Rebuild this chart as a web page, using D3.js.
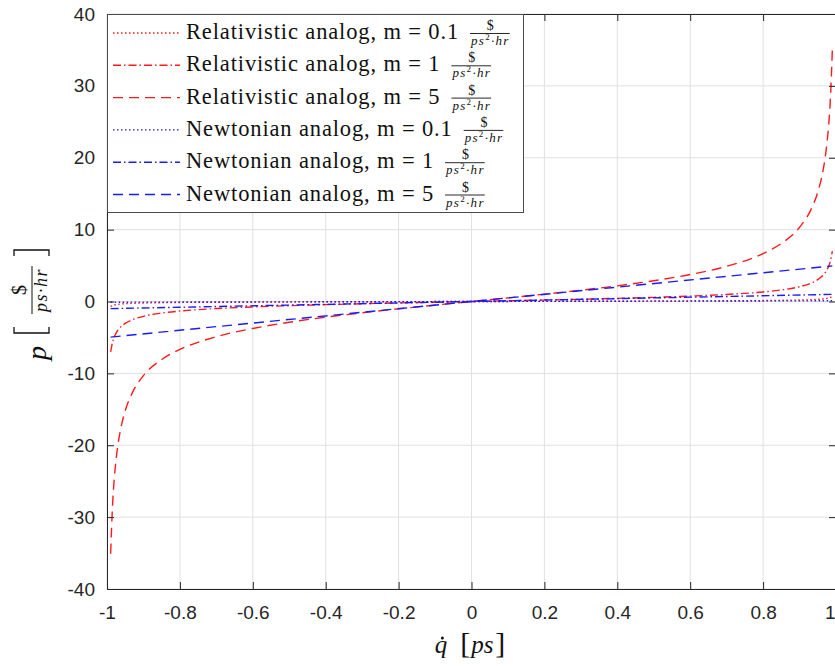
<!DOCTYPE html>
<html>
<head>
<meta charset="utf-8">
<script src="https://cdn.jsdelivr.net/npm/d3@7"></script>
<style>
  body { margin: 0; background: #fff; }
  svg { display: block; }
</style>
</head>
<body>
<div id="chart"></div>
<script>
// velocity samples (x axis) and momentum
const qdot = [-0.99, -0.985, -0.98, -0.975, -0.97, -0.96, -0.95, -0.93, -0.9, -0.85, -0.8, -0.7, -0.6, -0.5, -0.4, -0.3, -0.2, -0.1, 0,
  0.1, 0.2, 0.3, 0.4, 0.5, 0.6, 0.7, 0.8, 0.85, 0.9, 0.93, 0.95, 0.96, 0.97, 0.975, 0.98, 0.985, 0.99];
const relM01 = [-0.70, -0.57, -0.49, -0.44, -0.40, -0.34, -0.30, -0.25, -0.21, -0.16, -0.13, -0.10, -0.08, -0.06, -0.04, -0.03, -0.02, -0.01, 0,
  0.01, 0.02, 0.03, 0.04, 0.06, 0.08, 0.10, 0.13, 0.16, 0.21, 0.25, 0.30, 0.34, 0.40, 0.44, 0.49, 0.57, 0.70];
const relM1 = [-7.02, -5.71, -4.92, -4.39, -3.99, -3.43, -3.04, -2.53, -2.06, -1.61, -1.33, -0.98, -0.75, -0.58, -0.44, -0.31, -0.20, -0.10, 0,
  0.10, 0.20, 0.31, 0.44, 0.58, 0.75, 0.98, 1.33, 1.61, 2.06, 2.53, 3.04, 3.43, 3.99, 4.39, 4.92, 5.71, 7.02];
const relM5 = [-35.09, -28.54, -24.62, -21.94, -19.95, -17.14, -15.21, -12.65, -10.32, -8.07, -6.67, -4.90, -3.75, -2.89, -2.18, -1.57, -1.02, -0.50, 0,
  0.50, 1.02, 1.57, 2.18, 2.89, 3.75, 4.90, 6.67, 8.07, 10.32, 12.65, 15.21, 17.14, 19.95, 21.94, 24.62, 28.54, 35.09];

const qdotN = [-0.99, 0, 0.99];
const newtM01 = [-0.099, 0, 0.099];
const newtM1 = [-0.99, 0, 0.99];
const newtM5 = [-4.95, 0, 4.95];

const xTicks = [-1, -0.8, -0.6, -0.4, -0.2, 0, 0.2, 0.4, 0.6, 0.8, 1];
const yTicks = [-40, -30, -20, -10, 0, 10, 20, 30, 40];

const legendLabels = [
  "Relativistic analog, m = 0.1",
  "Relativistic analog, m = 1",
  "Relativistic analog, m = 5",
  "Newtonian analog, m = 0.1",
  "Newtonian analog, m = 1",
  "Newtonian analog, m = 5"
];

const W = 835, H = 666;
const plot = { left: 107, right: 836, top: 14, bottom: 589 };
const axisColor = "#262626";
const serif = "'Liberation Serif', 'Times New Roman', serif";
const sans = "'Liberation Sans', Arial, Helvetica, sans-serif";

const styles = {
  dotted: "1.5,2.5",
  dashdot: "8,3,1.5,3",
  dashed: "10,6"
};

const series = [
  { x: qdot, y: relM01, color: "#ff1a1a", dash: styles.dotted },
  { x: qdot, y: relM1, color: "#ff1a1a", dash: styles.dashdot },
  { x: qdot, y: relM5, color: "#ff1a1a", dash: styles.dashed },
  { x: qdotN, y: newtM01, color: "#1a1aff", dash: styles.dotted },
  { x: qdotN, y: newtM1, color: "#1a1aff", dash: styles.dashdot },
  { x: qdotN, y: newtM5, color: "#1a1aff", dash: styles.dashed }
];

const svg = d3.select("#chart").append("svg")
  .attr("width", W)
  .attr("height", H);

const xScale = d3.scaleLinear().domain([-1, 1]).range([plot.left, plot.right]);
const yScale = d3.scaleLinear().domain([-40, 40]).range([plot.bottom, plot.top]);

// grid
svg.append("g").selectAll("line.vx")
  .data(xTicks).enter().append("line")
  .attr("x1", d => xScale(d)).attr("x2", d => xScale(d))
  .attr("y1", plot.top).attr("y2", plot.bottom)
  .attr("stroke", "#e1e1e1").attr("stroke-width", 1);
svg.append("g").selectAll("line.hy")
  .data(yTicks).enter().append("line")
  .attr("y1", d => yScale(d)).attr("y2", d => yScale(d))
  .attr("x1", plot.left).attr("x2", plot.right)
  .attr("stroke", "#e1e1e1").attr("stroke-width", 1);

// curves
const line = d3.line()
  .x(d => xScale(d[0]))
  .y(d => yScale(d[1]))
  .curve(d3.curveMonotoneX);

svg.append("g").selectAll("path")
  .data(series).enter().append("path")
  .attr("d", s => line(s.x.map((v, i) => [v, s.y[i]])))
  .attr("fill", "none")
  .attr("stroke", s => s.color)
  .attr("stroke-width", 1.4)
  .attr("stroke-dasharray", s => s.dash);

// axes (ticks inside, box on)
const tickLen = 7;
const fmt = d => d3.format("")(d).replace("\u2212", "-");
const xAxisB = d3.axisBottom(xScale).tickValues(xTicks).tickSize(-tickLen).tickPadding(17).tickFormat(fmt);
const xAxisT = d3.axisTop(xScale).tickValues(xTicks).tickSize(-tickLen).tickFormat("");
const yAxisL = d3.axisLeft(yScale).tickValues(yTicks).tickSize(-tickLen).tickPadding(12).tickFormat(fmt);
const yAxisR = d3.axisRight(yScale).tickValues(yTicks).tickSize(-tickLen).tickFormat("");

function styleAxis(g) {
  g.selectAll("path").attr("stroke", axisColor).attr("stroke-width", 1);
  g.selectAll("line").attr("stroke", axisColor).attr("stroke-width", 1);
  g.selectAll("text").attr("fill", axisColor)
    .style("font-family", sans).style("font-size", "19px");
}

const gx = svg.append("g").attr("transform", `translate(0,${plot.bottom})`).call(xAxisB).call(styleAxis);
// keep the last label inside the window
gx.selectAll(".tick text").filter(d => d === 1).attr("text-anchor", "end").attr("dx", -1);
svg.append("g").attr("transform", `translate(0,${plot.top})`).call(xAxisT).call(styleAxis);
svg.append("g").attr("transform", `translate(${plot.left},0)`).call(yAxisL).call(styleAxis);
svg.append("g").attr("transform", `translate(${plot.right},0)`).call(yAxisR).call(styleAxis);

// legend
const legend = { x: plot.left, y: plot.top, w: 416, h: 198, row: 32.3, first: 19, textX: 79, firstWidth: 273 };
const lg = svg.append("g");
lg.append("rect")
  .attr("x", legend.x + 0.5).attr("y", legend.y + 0.5)
  .attr("width", legend.w).attr("height", legend.h)
  .attr("fill", "#fff").attr("stroke", "#4a4a4a").attr("stroke-width", 1);

// the LaTeX font is wider than Times: stretch with letter spacing
const probe = lg.append("text")
  .style("font-family", serif).style("font-size", "22.5px")
  .text(legendLabels[0]);
const spacing = Math.max(0, (legend.firstWidth - probe.node().getComputedTextLength()) / legendLabels[0].length);
probe.remove();

series.forEach((s, i) => {
  const cy = legend.y + legend.first + i * legend.row;
  lg.append("line")
    .attr("x1", legend.x + 6).attr("x2", legend.x + 73)
    .attr("y1", cy).attr("y2", cy)
    .attr("stroke", s.color).attr("stroke-width", 1.4)
    .attr("stroke-dasharray", s.dash);
  const t = lg.append("text")
    .attr("x", legend.x + legend.textX).attr("y", cy + 6)
    .style("font-family", serif).style("font-size", "22.5px")
    .style("letter-spacing", spacing + "px")
    .attr("fill", "#111")
    .text(legendLabels[i]);
  const fx = legend.x + legend.textX + t.node().getComputedTextLength() + 11;
  const num = lg.append("text")
    .style("font-family", serif).style("font-size", "14px").attr("fill", "#111")
    .attr("y", cy - 3).text("$");
  const den = lg.append("text")
    .attr("x", fx + 1).attr("y", cy + 12)
    .style("font-family", serif).style("font-size", "13px").style("font-style", "italic")
    .style("letter-spacing", "1.3px")
    .attr("fill", "#111");
  den.append("tspan").text("ps");
  den.append("tspan").attr("dy", -5).style("font-size", "9px").style("font-style", "normal").text("2");
  den.append("tspan").attr("dy", 5).text("·hr");
  const dw = den.node().getComputedTextLength();
  num.attr("x", fx + 1 + dw / 2).attr("text-anchor", "middle");
  lg.append("line")
    .attr("x1", fx).attr("x2", fx + dw + 1)
    .attr("y1", cy + 0.5).attr("y2", cy + 0.5)
    .attr("stroke", "#111").attr("stroke-width", 0.9);
});

// x label: q-dot [ps]
const xl = svg.append("text")
  .attr("x", 470).attr("y", 653)
  .attr("text-anchor", "middle")
  .style("font-family", serif).style("font-size", "25px").attr("fill", "#111");
xl.append("tspan").style("font-style", "italic").text("q");
xl.append("tspan").attr("dx", 13).style("font-size", "30px").text("[");
xl.append("tspan").attr("dx", 1).style("font-style", "italic").text("ps");
xl.append("tspan").attr("dx", 2).style("font-size", "30px").text("]");
const qBox = xl.node().getExtentOfChar(0);
svg.append("circle")
  .attr("cx", qBox.x + qBox.width / 2 + 1.5).attr("cy", 638)
  .attr("r", 1.5).attr("fill", "#111");

// y label: p [ $ / ps·hr ], rotated
const yl = svg.append("g").attr("transform", "translate(46,360) rotate(-90)");
yl.append("text").attr("x", 0).attr("y", 0)
  .style("font-family", serif).style("font-size", "28px").style("font-style", "italic")
  .attr("fill", "#111").text("p");
const bracket = (x, dir) => `M${x + 6 * dir},-32 H${x} V3 H${x + 6 * dir}`;
yl.append("path").attr("d", bracket(27, 1))
  .attr("fill", "none").attr("stroke", "#111").attr("stroke-width", 1.3);
yl.append("path").attr("d", bracket(110, -1))
  .attr("fill", "none").attr("stroke", "#111").attr("stroke-width", 1.3);
const yden = yl.append("text").attr("x", 70).attr("y", 1)
  .attr("text-anchor", "middle")
  .style("font-family", serif).style("font-size", "18px").style("font-style", "italic")
  .style("letter-spacing", "1.5px")
  .attr("fill", "#111").text("ps·hr");
yl.append("text").attr("x", 70).attr("y", -20)
  .attr("text-anchor", "middle")
  .style("font-family", serif).style("font-size", "20px")
  .attr("fill", "#111").text("$");
const ydw = yden.node().getComputedTextLength();
yl.append("line")
  .attr("x1", 70 - ydw / 2 - 2).attr("x2", 70 + ydw / 2 + 2)
  .attr("y1", -14).attr("y2", -14)
  .attr("stroke", "#111").attr("stroke-width", 1);
</script>
</body>
</html>
